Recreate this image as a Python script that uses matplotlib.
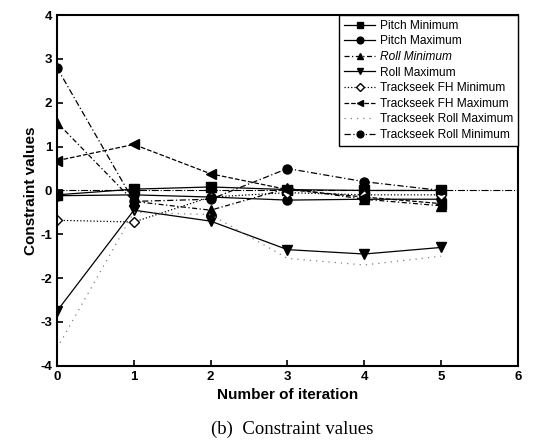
import matplotlib
matplotlib.use('Agg')
import matplotlib.pyplot as plt
from matplotlib import rcParams

rcParams['font.family'] = 'sans-serif'
rcParams['font.sans-serif'] = ['Liberation Sans']
rcParams['font.size'] = 9
rcParams['axes.unicode_minus'] = False

# data
iters = [0, 1, 2, 3, 4, 5]
pitch_min = [-0.10, 0.03, 0.08, 0.02, 0.00, 0.00]
pitch_max = [-0.12, -0.10, -0.15, -0.22, -0.20, -0.20]
roll_min = [1.55, -0.25, -0.45, 0.05, -0.20, -0.35]
roll_max = [-2.75, -0.45, -0.70, -1.35, -1.45, -1.30]
ts_fh_min = [-0.68, -0.72, -0.15, -0.05, -0.10, -0.10]
ts_fh_max = [0.68, 1.05, 0.38, 0.02, -0.15, -0.30]
ts_roll_max = [-3.60, -0.50, -0.55, -1.55, -1.70, -1.50]
ts_roll_min = [2.80, -0.25, -0.20, 0.50, 0.20, 0.00]

fig = plt.figure(figsize=(5.41, 4.45), dpi=100)
ax = fig.add_axes([0.1054, 0.178, 0.852, 0.788])

k = dict(color='black', lw=0.9, ms=6.5)
ax.axhline(0, color='black', lw=0.8, ls='-.', zorder=1)
ax.plot(iters, pitch_min, '-', marker='s', label='Pitch Minimum', **k)
ax.plot(iters, pitch_max, '-', marker='o', label='Pitch Maximum', **k)
ax.plot(iters, roll_min, ls=(0, (4, 2, 1, 2)), marker='^', label='Roll Minimum', **k)
ax.plot(iters, roll_max, '-', marker='v', label='Roll Maximum', **k)
ax.plot(iters, ts_fh_min, ':', marker='D', mfc='white', ms=5.5, color='black', lw=0.9,
        label='Trackseek FH Minimum')
ax.plot(iters, ts_fh_max, '--', marker='<', label='Trackseek FH Maximum', **k)
ax.plot(iters, ts_roll_max, ls=(0, (1, 4)), color='gray', lw=0.9, label='Trackseek Roll Maximum')
ax.plot(iters, ts_roll_min, ls=(0, (5, 2, 1, 2)), marker='o', label='Trackseek Roll Minimum', **k)

ax.set_xlim(0, 6)
ax.set_ylim(-4, 4)
ax.set_xticks(range(0, 7))
ax.set_yticks(range(-4, 5))
for t in ax.get_xticklabels() + ax.get_yticklabels():
    t.set_fontweight('bold')
    t.set_fontsize(9.5)
ax.tick_params(direction='in', length=4, width=1.2)
for s in ax.spines.values():
    s.set_linewidth(1.5)

ax.set_xlabel('Number of iteration', fontsize=11, fontweight='bold')
ax.set_ylabel('Constraint values', fontsize=11, fontweight='bold', labelpad=2)

leg = ax.legend(loc='upper right', fontsize=8.6, frameon=True, fancybox=False,
                edgecolor='black', framealpha=1, borderaxespad=0, markerscale=0.75,
                labelspacing=0.3, handlelength=2.6, handletextpad=0.4, borderpad=0.4)
leg.get_frame().set_linewidth(1.0)
leg.get_texts()[2].set_style('italic')

fig.text(0.54, 0.035, '(b)  Constraint values', ha='center', va='center',
         family='Liberation Serif', fontsize=13.5)

plt.savefig('out.png', dpi=100)
